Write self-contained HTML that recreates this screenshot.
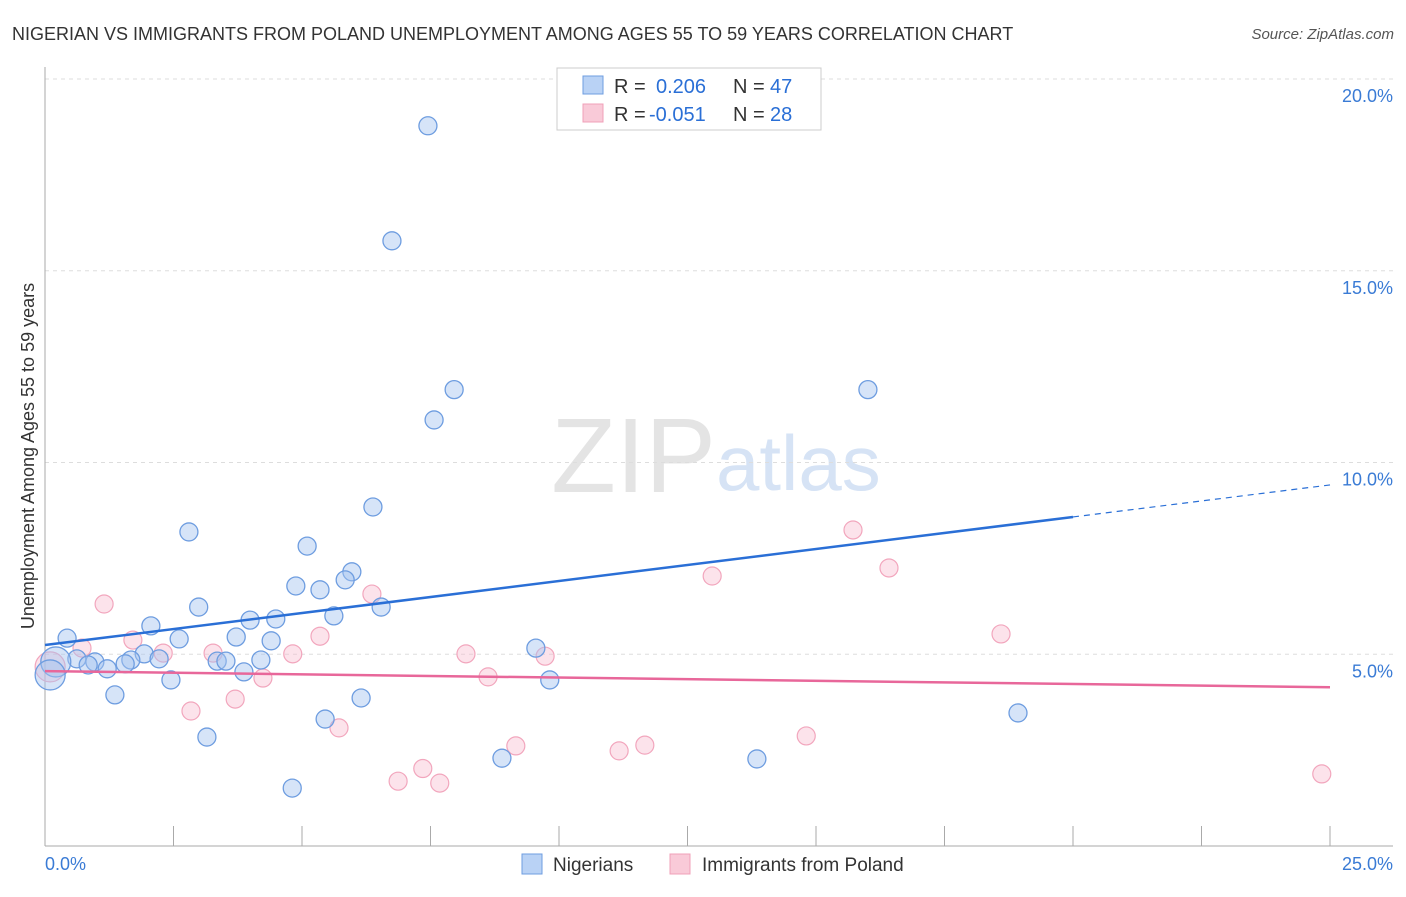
<!DOCTYPE html>
<html><head><meta charset="utf-8"><style>
body{margin:0;background:#fff;font-family:"Liberation Sans",sans-serif}
svg text{font-family:"Liberation Sans",sans-serif}
</style></head><body>
<svg id="chart" width="1406" height="892" xmlns="http://www.w3.org/2000/svg">
<text x="12" y="40" font-size="18" fill="#333">NIGERIAN VS IMMIGRANTS FROM POLAND UNEMPLOYMENT AMONG AGES 55 TO 59 YEARS CORRELATION CHART</text>
<text x="1394" y="39" font-size="15" fill="#555" text-anchor="end" font-style="italic">Source: ZipAtlas.com</text>
<text x="716" y="492" font-size="106" fill="#e4e4e4" text-anchor="end" font-family="Liberation Serif">ZIP</text>
<text x="716" y="490" font-size="78" fill="#d6e3f5">atlas</text>
<g id="grid"></g>
<g id="axes"></g>
<g id="pts"></g>
<g id="lines"></g>
<text transform="translate(34,456) rotate(-90)" font-size="18" fill="#333" text-anchor="middle">Unemployment Among Ages 55 to 59 years</text>
<g>
<rect x="557" y="68" width="264" height="62" fill="#fff" stroke="#ccc"/>
<rect x="583" y="76" width="20" height="18" fill="#b9d2f5" stroke="#6e9de0"/>
<text x="614" y="93" font-size="20" fill="#333">R = </text><text x="656" y="93" font-size="20" fill="#2a6fd6">0.206</text>
<text x="733" y="93" font-size="20" fill="#333">N = </text><text x="770" y="93" font-size="20" fill="#2a6fd6">47</text>
<rect x="583" y="104" width="20" height="18" fill="#f9cad8" stroke="#f0a0b8"/>
<text x="614" y="121" font-size="20" fill="#333">R = </text><text x="649" y="121" font-size="20" fill="#2a6fd6">-0.051</text>
<text x="733" y="121" font-size="20" fill="#333">N = </text><text x="770" y="121" font-size="20" fill="#2a6fd6">28</text>
</g>
<g>
<rect x="522" y="854" width="20" height="20" fill="#b9d2f5" stroke="#6e9de0"/>
<text x="553" y="871" font-size="19" fill="#333">Nigerians</text>
<rect x="670" y="854" width="20" height="20" fill="#f9cad8" stroke="#f0a0b8"/>
<text x="702" y="871" font-size="19" fill="#333">Immigrants from Poland</text>
</g>
</svg>
<script>
const xTicks=[0,2.5,5,7.5,10,12.5,15,17.5,20,22.5,25];
const yTicks=[5,10,15,20];
const yTickLabels=["5.0%","10.0%","15.0%","20.0%"];
const nigX=[7.45,6.75,7.96,7.57,16.01,6.38,2.8,5.1,5.97,5.84,4.88,5.35,2.99,6.54,5.62,3.99,4.49,2.06,0.43,3.72,2.61,4.4,9.55,1.93,0.62,1.67,2.22,3.35,3.52,0.97,1.56,0.84,1.21,4.2,3.87,2.45,9.82,1.36,6.15,18.93,5.45,3.15,8.89,13.85,4.81,0.21,0.1];
const nigY=[18.78,15.78,11.9,11.11,11.9,8.84,8.19,7.82,7.15,6.94,6.78,6.68,6.23,6.23,6.0,5.89,5.92,5.74,5.42,5.45,5.4,5.35,5.16,5.01,4.88,4.85,4.88,4.82,4.82,4.8,4.75,4.72,4.62,4.85,4.54,4.33,4.33,3.94,3.86,3.47,3.31,2.84,2.29,2.27,1.51,4.8,4.46];
const polX=[1.15,15.72,12.98,16.42,6.36,5.35,1.71,18.6,2.3,3.27,4.82,8.19,9.73,0.72,4.24,8.62,3.7,2.84,5.72,14.81,9.16,11.67,11.17,7.35,6.87,7.68,24.84,0.1];
const polY=[6.31,8.24,7.04,7.25,6.57,5.47,5.37,5.53,5.03,5.03,5.01,5.01,4.95,5.16,4.38,4.41,3.83,3.52,3.08,2.87,2.61,2.63,2.48,2.02,1.69,1.64,1.88,4.67];
const nigBig=[0,0,0,0,0,0,0,0,0,0,0,0,0,0,0,0,0,0,0,0,0,0,0,0,0,0,0,0,0,0,0,0,0,0,0,0,0,0,0,0,0,0,0,0,0,1,1];
const nigTrend=[5.24,8.58]; // values at x=0 and x=20
const polTrend=[4.56,4.14]; // values at x=0 and x=25
const X=v=>45+v*51.4, Y=v=>846-v*38.35;
const NS="http://www.w3.org/2000/svg";
function mk(t,a,p){const e=document.createElementNS(NS,t);for(const k in a)e.setAttribute(k,a[k]);p.appendChild(e);return e;}
const g=document.getElementById('grid'),ax=document.getElementById('axes'),pts=document.getElementById('pts'),ln=document.getElementById('lines');
yTicks.forEach((t,i)=>{
 const l=mk('line',{x1:45,x2:1393,y1:Y(t),y2:Y(t),stroke:'#ddd','stroke-dasharray':'4,4'},g);
 
 
 const tx=mk('text',{x:1393,y:Y(t)+23,'font-size':18,fill:'#3a7bd5','text-anchor':'end'},ax);tx.textContent=yTickLabels[i];
 
 
});
const a1=mk('line',{x1:45,x2:45,y1:67,y2:846,stroke:'#aaa'},ax);


const a2=mk('line',{x1:45,x2:1393,y1:846,y2:846,stroke:'#aaa'},ax);


xTicks.forEach(t=>{const l=mk('line',{x1:X(t),x2:X(t),y1:826,y2:846,stroke:'#aaa'},ax);
 
 });
const t0=mk('text',{x:45,y:870,'font-size':18,fill:'#3a7bd5'},ax);t0.textContent="0.0%";


const t1=mk('text',{x:1393,y:870,'font-size':18,fill:'#3a7bd5','text-anchor':'end'},ax);t1.textContent="25.0%";


polX.forEach((x,i)=>{const c=mk('circle',{cx:X(x),cy:Y(polY[i]),r:i==polX.length-1?15:9,fill:'rgba(248,185,205,0.4)',stroke:'#f2a6bd','stroke-width':1.2},pts);
 
 });
nigX.forEach((x,i)=>{const c=mk('circle',{cx:X(x),cy:Y(nigY[i]),r:nigBig[i]?15:9,fill:'rgba(164,196,240,0.45)',stroke:'#6e9de0','stroke-width':1.3},pts);
 
 });
const sl=(nigTrend[1]-nigTrend[0])/20;
const b1=mk('line',{x1:X(0),y1:Y(nigTrend[0]),x2:X(20),y2:Y(nigTrend[1]),stroke:'#2a6fd6','stroke-width':2.5},ln);


const b2=mk('line',{x1:X(20),y1:Y(nigTrend[1]),x2:X(25),y2:Y(nigTrend[0]+sl*25),stroke:'#2a6fd6','stroke-width':1.2,'stroke-dasharray':'6,5'},ln);


const p1=mk('line',{x1:X(0),y1:Y(polTrend[0]),x2:X(25),y2:Y(polTrend[1]),stroke:'#e8679a','stroke-width':2.5},ln);


</script>
</body></html>
